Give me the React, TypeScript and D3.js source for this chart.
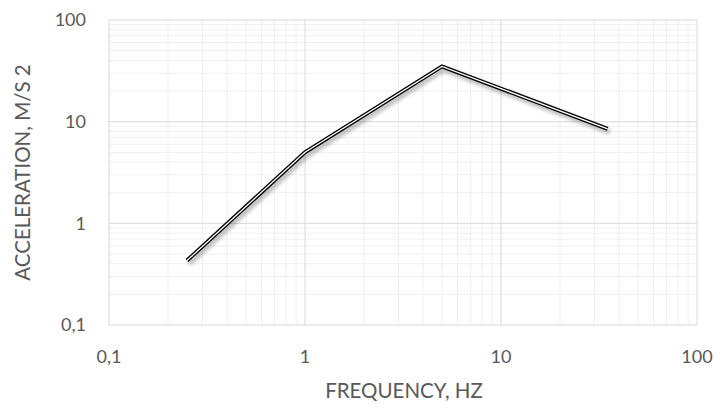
import React from 'react';
import * as d3 from 'd3';

// data (log-log)
const freq = [0.25, 1, 5, 35];
const accel = [0.43, 5, 35, 8.5];
const xTicks = [0.1, 1, 10, 100];
const yTicks = [0.1, 1, 10, 100];
const tickLabel = (v: number) => String(v).replace('.', ',');

const W = 720;
const H = 410;
const margin = { top: 20, right: 23, bottom: 85, left: 109 };

const App = () => {
    const x = d3.scaleLog().domain([0.1, 100]).range([margin.left, W - margin.right]);
    const y = d3.scaleLog().domain([0.1, 100]).range([H - margin.bottom, margin.top]);

    // minor gridlines at 2..9 of each decade
    const minors: number[] = [];
    [0.1, 1, 10].forEach(d => {
        for (let k = 2; k <= 9; k++) minors.push(d * k);
    });

    const line = d3.line<number>()
        .x((d, i) => x(freq[i]))
        .y(d => y(d));
    const path = line(accel) || '';

    const font = 'Lato, sans-serif';
    const grey = '#595959';

    return (
        <svg width={W} height={H} style={{ position: 'absolute', left: 0, top: 0, background: '#fff' }}>
            <defs>
                <filter id="shadow" x="-10%" y="-10%" width="120%" height="130%">
                    <feGaussianBlur in="SourceAlpha" stdDeviation="2" />
                    <feOffset dx="2" dy="3" result="blur" />
                    <feComponentTransfer>
                        <feFuncA type="linear" slope="0.35" />
                    </feComponentTransfer>
                    <feMerge>
                        <feMergeNode />
                        <feMergeNode in="SourceGraphic" />
                    </feMerge>
                </filter>
            </defs>
            <rect width={W} height={H} fill="#fff" />

            {/* minor grid */}
            {minors.map(v => (
                <g key={'m' + v}>
                    <line x1={x(v)} x2={x(v)} y1={y(0.1)} y2={y(100)} stroke="#efefef" strokeWidth={1} />
                    <line x1={x(0.1)} x2={x(100)} y1={y(v)} y2={y(v)} stroke="#efefef" strokeWidth={1} />
                </g>
            ))}
            {/* major grid */}
            {xTicks.map(v => (
                <line key={'gx' + v} x1={x(v)} x2={x(v)} y1={y(0.1)} y2={y(100)} stroke="#d9d9d9" strokeWidth={1} />
            ))}
            {yTicks.map(v => (
                <line key={'gy' + v} x1={x(0.1)} x2={x(100)} y1={y(v)} y2={y(v)} stroke="#d9d9d9" strokeWidth={1} />
            ))}

            {/* series: double line with shadow */}
            <g filter="url(#shadow)">
                <path d={path} fill="none" stroke="#000" strokeWidth={4} strokeLinejoin="miter" />
                <path d={path} fill="none" stroke="#fff" strokeWidth={1.3} strokeLinejoin="miter" />
            </g>

            {/* tick labels */}
            {yTicks.map(v => (
                <text key={'ty' + v} x={margin.left - 23} y={y(v)} dy="0.35em" textAnchor="end"
                    fontFamily={font} fontSize={18} fill={grey}>{tickLabel(v)}</text>
            ))}
            {xTicks.map(v => (
                <text key={'tx' + v} x={x(v)} y={357} dy="0.35em" textAnchor="middle"
                    fontFamily={font} fontSize={18} fill={grey}>{tickLabel(v)}</text>
            ))}

            {/* axis titles */}
            <text x={404} y={391} dy="0.35em" textAnchor="middle"
                fontFamily={font} fontSize={20.5} fill={grey}>FREQUENCY, HZ</text>
            <text transform={`translate(23,${(margin.top + H - margin.bottom) / 2}) rotate(-90)`} dy="0.35em"
                textAnchor="middle" fontFamily={font} fontSize={20.5} fill={grey}>ACCELERATION, M/S 2</text>
        </svg>
    );
};

export default App;
